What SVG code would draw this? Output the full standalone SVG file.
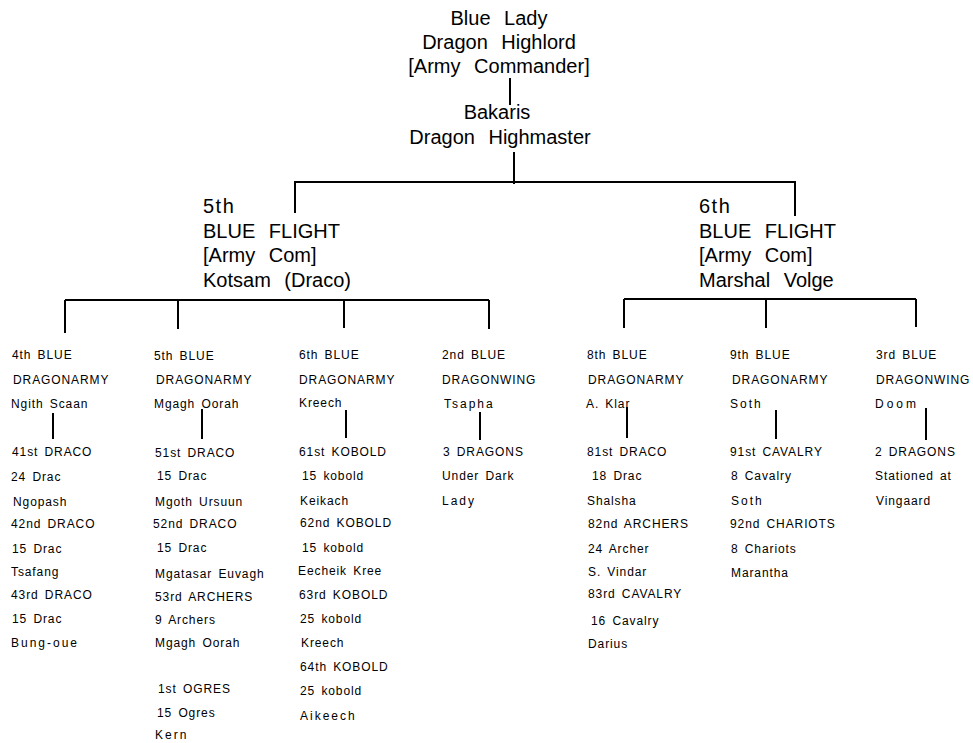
<svg xmlns="http://www.w3.org/2000/svg" width="973" height="743" viewBox="0 0 973 743">
<style>
text{font-family:"Liberation Sans",Arial,sans-serif;fill:#000}
.big{font-size:20px;word-spacing:8px}
.mid{font-size:20px;word-spacing:8px}
.sm{font-size:12px;letter-spacing:0.9px;word-spacing:2px}
.w{letter-spacing:2px}
.c{text-anchor:middle}
.ln{stroke:#000;stroke-width:2;fill:none}
</style>
<rect width="973" height="743" fill="#fff"/>
<g id="connectors" class="ln">
<path d="M510 78V105"/>
<path d="M514 152V184"/>
<path d="M294 182H796M295 182V213M795 182V216"/>
<path d="M65 300H489M65 300V333M178 300V329M344 300V328M489 300V329"/>
<path d="M624 299H916M624 299V328M766 299V328M916 299V327"/>
<path d="M53 413V439"/>
<path d="M202 409V439"/>
<path d="M346 410V438"/>
<path d="M480 412V440"/>
<path d="M627 407V438"/>
<path d="M776 410V439"/>
<path d="M926 408V440"/>
</g>
<g id="n_blue_lady" class="big c">
<text x="499" y="25">Blue Lady</text>
<text x="499" y="49">Dragon Highlord</text>
<text x="499" y="73">[Army Commander]</text>
</g>
<g id="n_bakaris" class="big c">
<text x="497" y="119">Bakaris</text>
<text x="500" y="144">Dragon Highmaster</text>
</g>
<g id="n_5th_flight" class="mid">
<text x="203" y="213" letter-spacing="1.5">5th</text>
<text x="203" y="238">BLUE FLIGHT</text>
<text x="203" y="262">[Army Com]</text>
<text x="203" y="287">Kotsam (Draco)</text>
</g>
<g id="n_6th_flight" class="mid">
<text x="699" y="213" letter-spacing="1.5">6th</text>
<text x="699" y="238">BLUE FLIGHT</text>
<text x="699" y="262">[Army Com]</text>
<text x="699" y="287">Marshal Volge</text>
</g>
<g id="n_4th_army" class="sm">
<text x="12" y="359">4th BLUE</text>
<text x="13" y="384">DRAGONARMY</text>
<text x="11" y="408">Ngith Scaan</text>
</g>
<g id="n_4th_units" class="sm">
<text x="12" y="456">41st DRACO</text>
<text x="11" y="481">24 Drac</text>
<text x="13" y="506">Ngopash</text>
<text x="11" y="528">42nd DRACO</text>
<text x="12" y="553">15 Drac</text>
<text x="11" y="576">Tsafang</text>
<text x="11" y="599">43rd DRACO</text>
<text x="12" y="623">15 Drac</text>
<text x="11" y="647" class="w">Bung-oue</text>
</g>
<g id="n_5th_army" class="sm">
<text x="154" y="360">5th BLUE</text>
<text x="156" y="384">DRAGONARMY</text>
<text x="154" y="408">Mgagh Oorah</text>
</g>
<g id="n_5th_units" class="sm">
<text x="155" y="457">51st DRACO</text>
<text x="157" y="480">15 Drac</text>
<text x="155" y="506">Mgoth Ursuun</text>
<text x="153" y="528">52nd DRACO</text>
<text x="157" y="552">15 Drac</text>
<text x="155" y="578">Mgatasar Euvagh</text>
<text x="155" y="601">53rd ARCHERS</text>
<text x="155" y="624">9 Archers</text>
<text x="155" y="647">Mgagh Oorah</text>
<text x="158" y="693">1st OGRES</text>
<text x="157" y="717">15 Ogres</text>
<text x="155" y="739" class="w">Kern</text>
</g>
<g id="n_6th_army" class="sm">
<text x="299" y="359">6th BLUE</text>
<text x="299" y="384">DRAGONARMY</text>
<text x="299" y="407">Kreech</text>
</g>
<g id="n_6th_units" class="sm">
<text x="299" y="456">61st KOBOLD</text>
<text x="302" y="480">15 kobold</text>
<text x="300" y="505">Keikach</text>
<text x="300" y="527">62nd KOBOLD</text>
<text x="302" y="552">15 kobold</text>
<text x="298" y="575">Eecheik Kree</text>
<text x="299" y="599">63rd KOBOLD</text>
<text x="300" y="623">25 kobold</text>
<text x="301" y="647">Kreech</text>
<text x="300" y="671">64th KOBOLD</text>
<text x="300" y="695">25 kobold</text>
<text x="300" y="720" class="w">Aikeech</text>
</g>
<g id="n_2nd_wing" class="sm">
<text x="442" y="359">2nd BLUE</text>
<text x="442" y="384">DRAGONWING</text>
<text x="444" y="408" class="w">Tsapha</text>
</g>
<g id="n_2nd_units" class="sm">
<text x="443" y="456">3 DRAGONS</text>
<text x="442" y="480">Under Dark</text>
<text x="442" y="505" class="w">Lady</text>
</g>
<g id="n_8th_army" class="sm">
<text x="587" y="359">8th BLUE</text>
<text x="588" y="384">DRAGONARMY</text>
<text x="586" y="408">A. Klar</text>
</g>
<g id="n_8th_units" class="sm">
<text x="587" y="456">81st DRACO</text>
<text x="592" y="480">18 Drac</text>
<text x="587" y="505">Shalsha</text>
<text x="588" y="528">82nd ARCHERS</text>
<text x="588" y="553">24 Archer</text>
<text x="588" y="576">S. Vindar</text>
<text x="588" y="598">83rd CAVALRY</text>
<text x="591" y="625">16 Cavalry</text>
<text x="588" y="648">Darius</text>
</g>
<g id="n_9th_army" class="sm">
<text x="730" y="359">9th BLUE</text>
<text x="732" y="384">DRAGONARMY</text>
<text x="730" y="408" class="w">Soth</text>
</g>
<g id="n_9th_units" class="sm">
<text x="730" y="456">91st CAVALRY</text>
<text x="731" y="480">8 Cavalry</text>
<text x="731" y="505" class="w">Soth</text>
<text x="730" y="528">92nd CHARIOTS</text>
<text x="731" y="553">8 Chariots</text>
<text x="731" y="577">Marantha</text>
</g>
<g id="n_3rd_wing" class="sm">
<text x="876" y="359">3rd BLUE</text>
<text x="876" y="384">DRAGONWING</text>
<text x="875" y="408" letter-spacing="3">Doom</text>
</g>
<g id="n_3rd_units" class="sm">
<text x="875" y="456">2 DRAGONS</text>
<text x="875" y="480">Stationed at</text>
<text x="876" y="505">Vingaard</text>
</g>
</svg>
